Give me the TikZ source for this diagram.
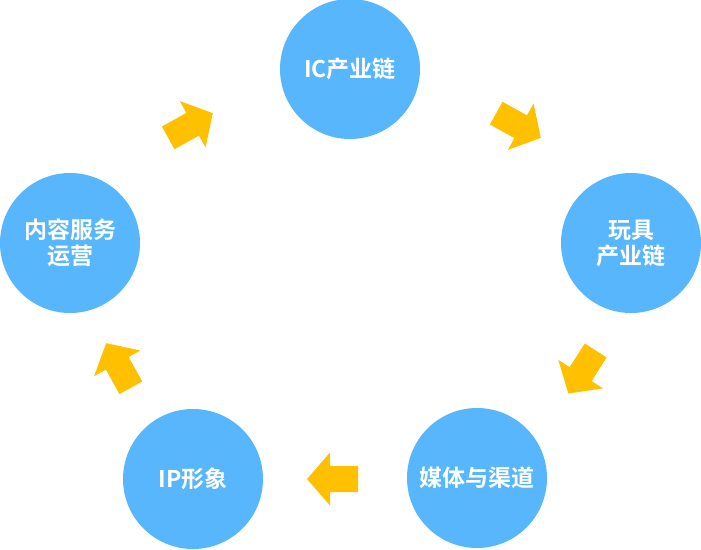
\documentclass[tikz,border=0pt]{standalone}
\usepackage{fontspec}
\setmainfont{Noto Sans CJK SC Bold}
\definecolor{bubble}{HTML}{58B6FD}
\definecolor{pointer}{HTML}{FFC000}
\begin{document}
\begin{tikzpicture}[x=1pt,y=-1pt,
  stage/.style={circle,fill=bubble,minimum size=140pt,inner sep=0pt,text=white,align=center,font=\fontsize{23}{26}\selectfont},
  flow/.style={fill=pointer}]
\useasboundingbox (0,0) rectangle (701,549);
% five stages round the cycle
\node[stage] (ic) at (350,69) {IC产业链};
\node[stage] (toy) at (631,243) {玩具\\产业链};
\node[stage] (media) at (477,478) {媒体与渠道};
\node[stage] (ip) at (193,479) {IP形象};
\node[stage] (content) at (70,243) {内容服务\\运营};
% block arrows between them
\foreach \x/\y/\a in {518.5/125.5/-29,582/372/-122.5,332.5/479/180,118.5/365.5/119,190.5/125.5/29}{
  \fill[flow,shift={(\x,\y)},rotate=\a] (-25.5,-13) -- (2.5,-13) -- (2.5,-26.5) -- (25.5,0) -- (2.5,26.5) -- (2.5,13) -- (-25.5,13) -- cycle;}
\end{tikzpicture}
\end{document}
